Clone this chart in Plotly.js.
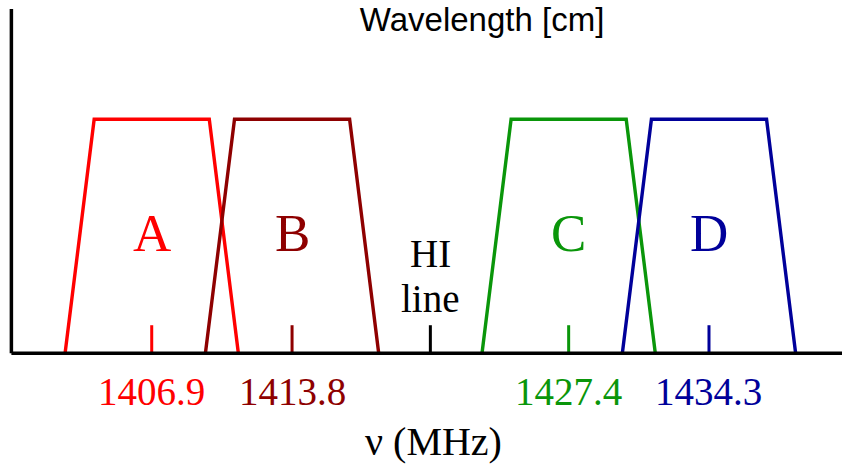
<!DOCTYPE html>
<html>
<head>
<meta charset="utf-8">
<script src="https://cdn.plot.ly/plotly-3.0.1.min.js"></script>
<style>
  html, body { margin: 0; padding: 0; background: #ffffff; }
  #chart { width: 842px; height: 470px; }
</style>
</head>
<body>
<div id="chart"></div>
<script>
// Sub-band filters around the 21 cm hydrogen line
const bandNames   = ['A', 'B', 'C', 'D'];
const bandCenters = [1406.9, 1413.8, 1427.4, 1434.3];     // MHz
const bandColors  = ['#ff0000', '#8e0000', '#0a960a', '#00009a'];
const outerHalfWidth = 4.26;   // MHz, half width at the base of each passband
const innerHalfWidth = 2.83;   // MHz, half width of the flat top
const passGain = 1;            // relative response of the flat top

const hiLineFreq = 1420.6;     // MHz, marked line position
const hiLabel = ['HI', 'line'];

const xMin = 1399.44, xMax = 1440.84;
const yMin = -0.4987, yMax = 1.5098;
const axisStart = 1400;        // frequency where the vertical axis sits
const axisTop = 1.471;
const tickLen = 0.12;

const serif = 'Liberation Serif, Times New Roman, serif';

const traces = [];

// trapezoidal passbands
bandCenters.forEach((c, i) => {
  traces.push({
    type: 'scatter', mode: 'lines',
    x: [c - outerHalfWidth, c - innerHalfWidth, c + innerHalfWidth, c + outerHalfWidth],
    y: [0, passGain, passGain, 0],
    line: { color: bandColors[i], width: 3.4 },
    hoverinfo: 'skip', showlegend: false
  });
});

// centre-frequency ticks
bandCenters.forEach((c, i) => {
  traces.push({
    type: 'scatter', mode: 'lines',
    x: [c, c], y: [0, tickLen],
    line: { color: bandColors[i], width: 3 },
    hoverinfo: 'skip', showlegend: false
  });
});

// HI line tick
traces.push({
  type: 'scatter', mode: 'lines',
  x: [hiLineFreq, hiLineFreq], y: [0, tickLen],
  line: { color: '#000000', width: 3 },
  hoverinfo: 'skip', showlegend: false
});

const annotations = [];

// band letters inside each passband
bandCenters.forEach((c, i) => {
  annotations.push({
    x: c, y: 0.515, xref: 'x', yref: 'y',
    text: bandNames[i], showarrow: false,
    xanchor: 'center', yanchor: 'middle',
    font: { family: serif, size: 53, color: bandColors[i] }
  });
});

// centre-frequency labels under the axis
bandCenters.forEach((c, i) => {
  annotations.push({
    x: c, y: -0.165, xref: 'x', yref: 'y',
    text: c.toFixed(1), showarrow: false,
    xanchor: 'center', yanchor: 'middle',
    font: { family: serif, size: 39, color: bandColors[i] }
  });
});

// HI line label
annotations.push({
  x: hiLineFreq, y: 0.425, xref: 'x', yref: 'y',
  text: hiLabel[0], showarrow: false, xanchor: 'center', yanchor: 'middle',
  font: { family: serif, size: 39, color: '#000000' }
});
annotations.push({
  x: hiLineFreq, y: 0.235, xref: 'x', yref: 'y',
  text: hiLabel[1], showarrow: false, xanchor: 'center', yanchor: 'middle',
  font: { family: serif, size: 39, color: '#000000' }
});

// frequency axis label
annotations.push({
  x: 0.5154, y: 0.06, xref: 'paper', yref: 'paper',
  text: 'ν (MHz)', showarrow: false, xanchor: 'center', yanchor: 'middle',
  font: { family: serif, size: 40, color: '#000000' }
});

const layout = {
  width: 842, height: 470,
  margin: { l: 0, r: 0, t: 0, b: 0 },
  paper_bgcolor: '#ffffff', plot_bgcolor: '#ffffff',
  title: {
    text: 'Wavelength [cm]',
    x: 0.5725, xref: 'paper', xanchor: 'center',
    y: 1 - 19 / 470, yref: 'container', yanchor: 'middle',
    font: { family: 'Liberation Sans, Arial, sans-serif', size: 33, color: '#000000' }
  },
  xaxis: { range: [xMin, xMax], visible: false, fixedrange: true },
  yaxis: { range: [yMin, yMax], visible: false, fixedrange: true },
  showlegend: false,
  shapes: [
    // frequency axis
    { type: 'line', xref: 'x', yref: 'y', x0: axisStart, x1: xMax, y0: 0, y1: 0,
      line: { color: '#000000', width: 3.5 } },
    // response axis
    { type: 'line', xref: 'x', yref: 'y', x0: axisStart, x1: axisStart, y0: 0, y1: axisTop,
      line: { color: '#000000', width: 3.5 } }
  ],
  annotations: annotations
};

Plotly.newPlot('chart', traces, layout, { staticPlot: true, displayModeBar: false });
</script>
</body>
</html>
